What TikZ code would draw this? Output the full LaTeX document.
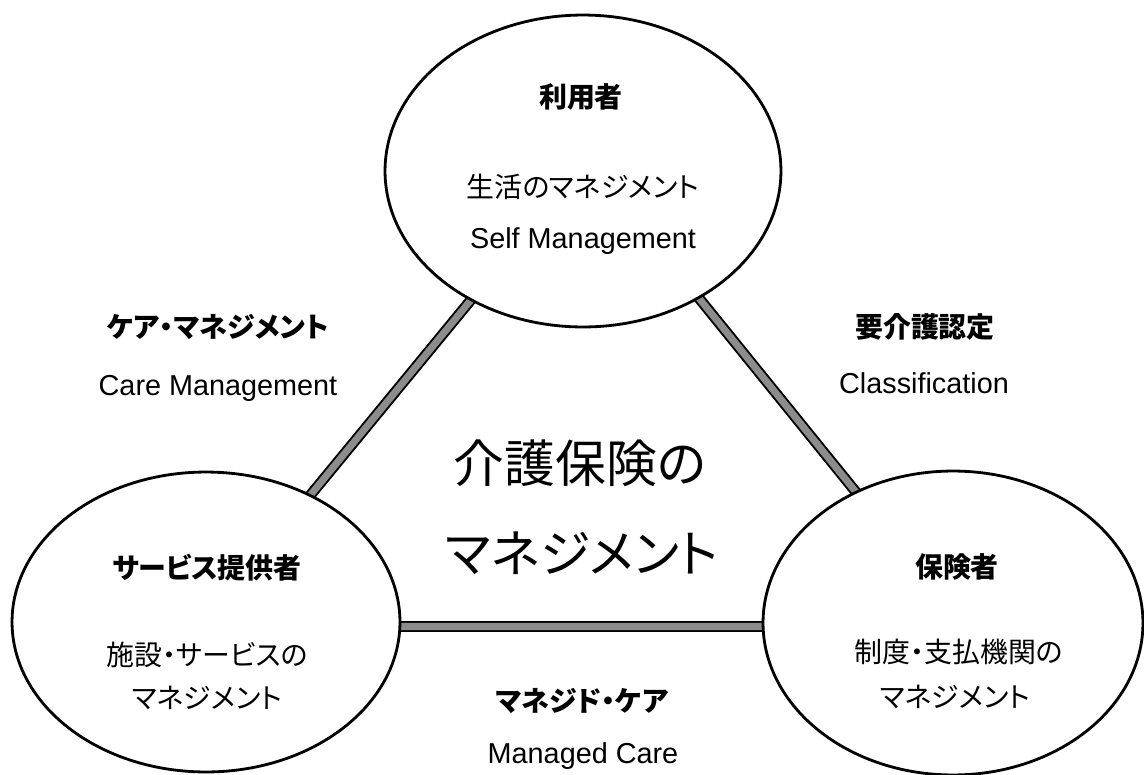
\documentclass[tikz,border=0pt]{standalone}
\usepackage{fontspec}
\setmainfont{Liberation Sans}
\newfontfamily\jp[RawFeature=+palt]{Noto Sans CJK JP}
\usetikzlibrary{shapes.geometric,backgrounds}
\definecolor{bargray}{RGB}{140,140,140}
\begin{document}
\begin{tikzpicture}[x=0.02cm,y=-0.02cm,
  blob/.style={ellipse,draw=black,line width=1.6pt,fill=white,inner sep=0pt,outer sep=0pt},
  jpb/.style={font=\jp\bfseries\fontsize{15.9pt}{19pt}\selectfont, inner sep=0pt},
  jpr/.style={font=\jp\fontsize{15.9pt}{19pt}\selectfont, inner sep=0pt},
  en/.style={font=\fontsize{16.4pt}{19pt}\selectfont, inner sep=0pt, anchor=base},
  big/.style={font=\jp\fontsize{28.9pt}{34pt}\selectfont, inner sep=0pt},
  barout/.style={line width=6.2pt, draw=black},
  barin/.style={line width=4.0pt, draw=bargray}]
\useasboundingbox (0,0) rectangle (1144,775);

\node[blob, minimum width=7.92cm, minimum height=6.24cm] (top) at (583,171) {};
\node[blob, minimum width=7.76cm, minimum height=6.0cm] (left) at (206,622) {};
\node[blob, minimum width=7.6cm, minimum height=6.08cm] (right) at (953,623) {};

\begin{scope}[on background layer]
  \draw[barout] ([xshift=-0.12cm]top.center) -- (left.center);
  \draw[barin]  ([xshift=-0.12cm]top.center) -- (left.center);
  \draw[barout] ([xshift=0.26cm]top.center) -- ([xshift=0.18cm]right.center);
  \draw[barin]  ([xshift=0.26cm]top.center) -- ([xshift=0.18cm]right.center);
  \draw[barout] ([yshift=-0.09cm]left.center) -- ([yshift=-0.07cm]right.center);
  \draw[barin]  ([yshift=-0.09cm]left.center) -- ([yshift=-0.07cm]right.center);
\end{scope}

% top ellipse texts
\node[jpb] (t1) at (581,97) {利用者};
\node[jpr] (t2) at (583,187) {生活のマネジメント};
\node[en]  (t3) at (583,248) {Self Management};

% left ellipse texts
\node[jpb] (l1) at (207,568) {サービス提供者};
\node[jpr] (l2) at (207,655) {施設・サービスの};
\node[jpr] (l3) at (207,698) {マネジメント};

% right ellipse texts
\node[jpb] (r1) at (957,567) {保険者};
\node[jpr] (r2) at (959,652) {制度・支払機関の};
\node[jpr] (r3) at (955,697) {マネジメント};

% edge labels
\node[jpb] (e1) at (218,327) {ケア・マネジメント};
\node[en]  (e2) at (218,395) {Care Management};
\node[jpb] (e3) at (925,327) {要介護認定};
\node[en]  (e4) at (924,393) {Classification};
\node[jpb] (e5) at (582,701) {マネジド・ケア};
\node[en]  (e6) at (583,763) {Managed Care};

% centre
\node[big] (c1) at (580,463) {介護保険の};
\node[big] (c2) at (582,553) {マネジメント};
\end{tikzpicture}
\end{document}
